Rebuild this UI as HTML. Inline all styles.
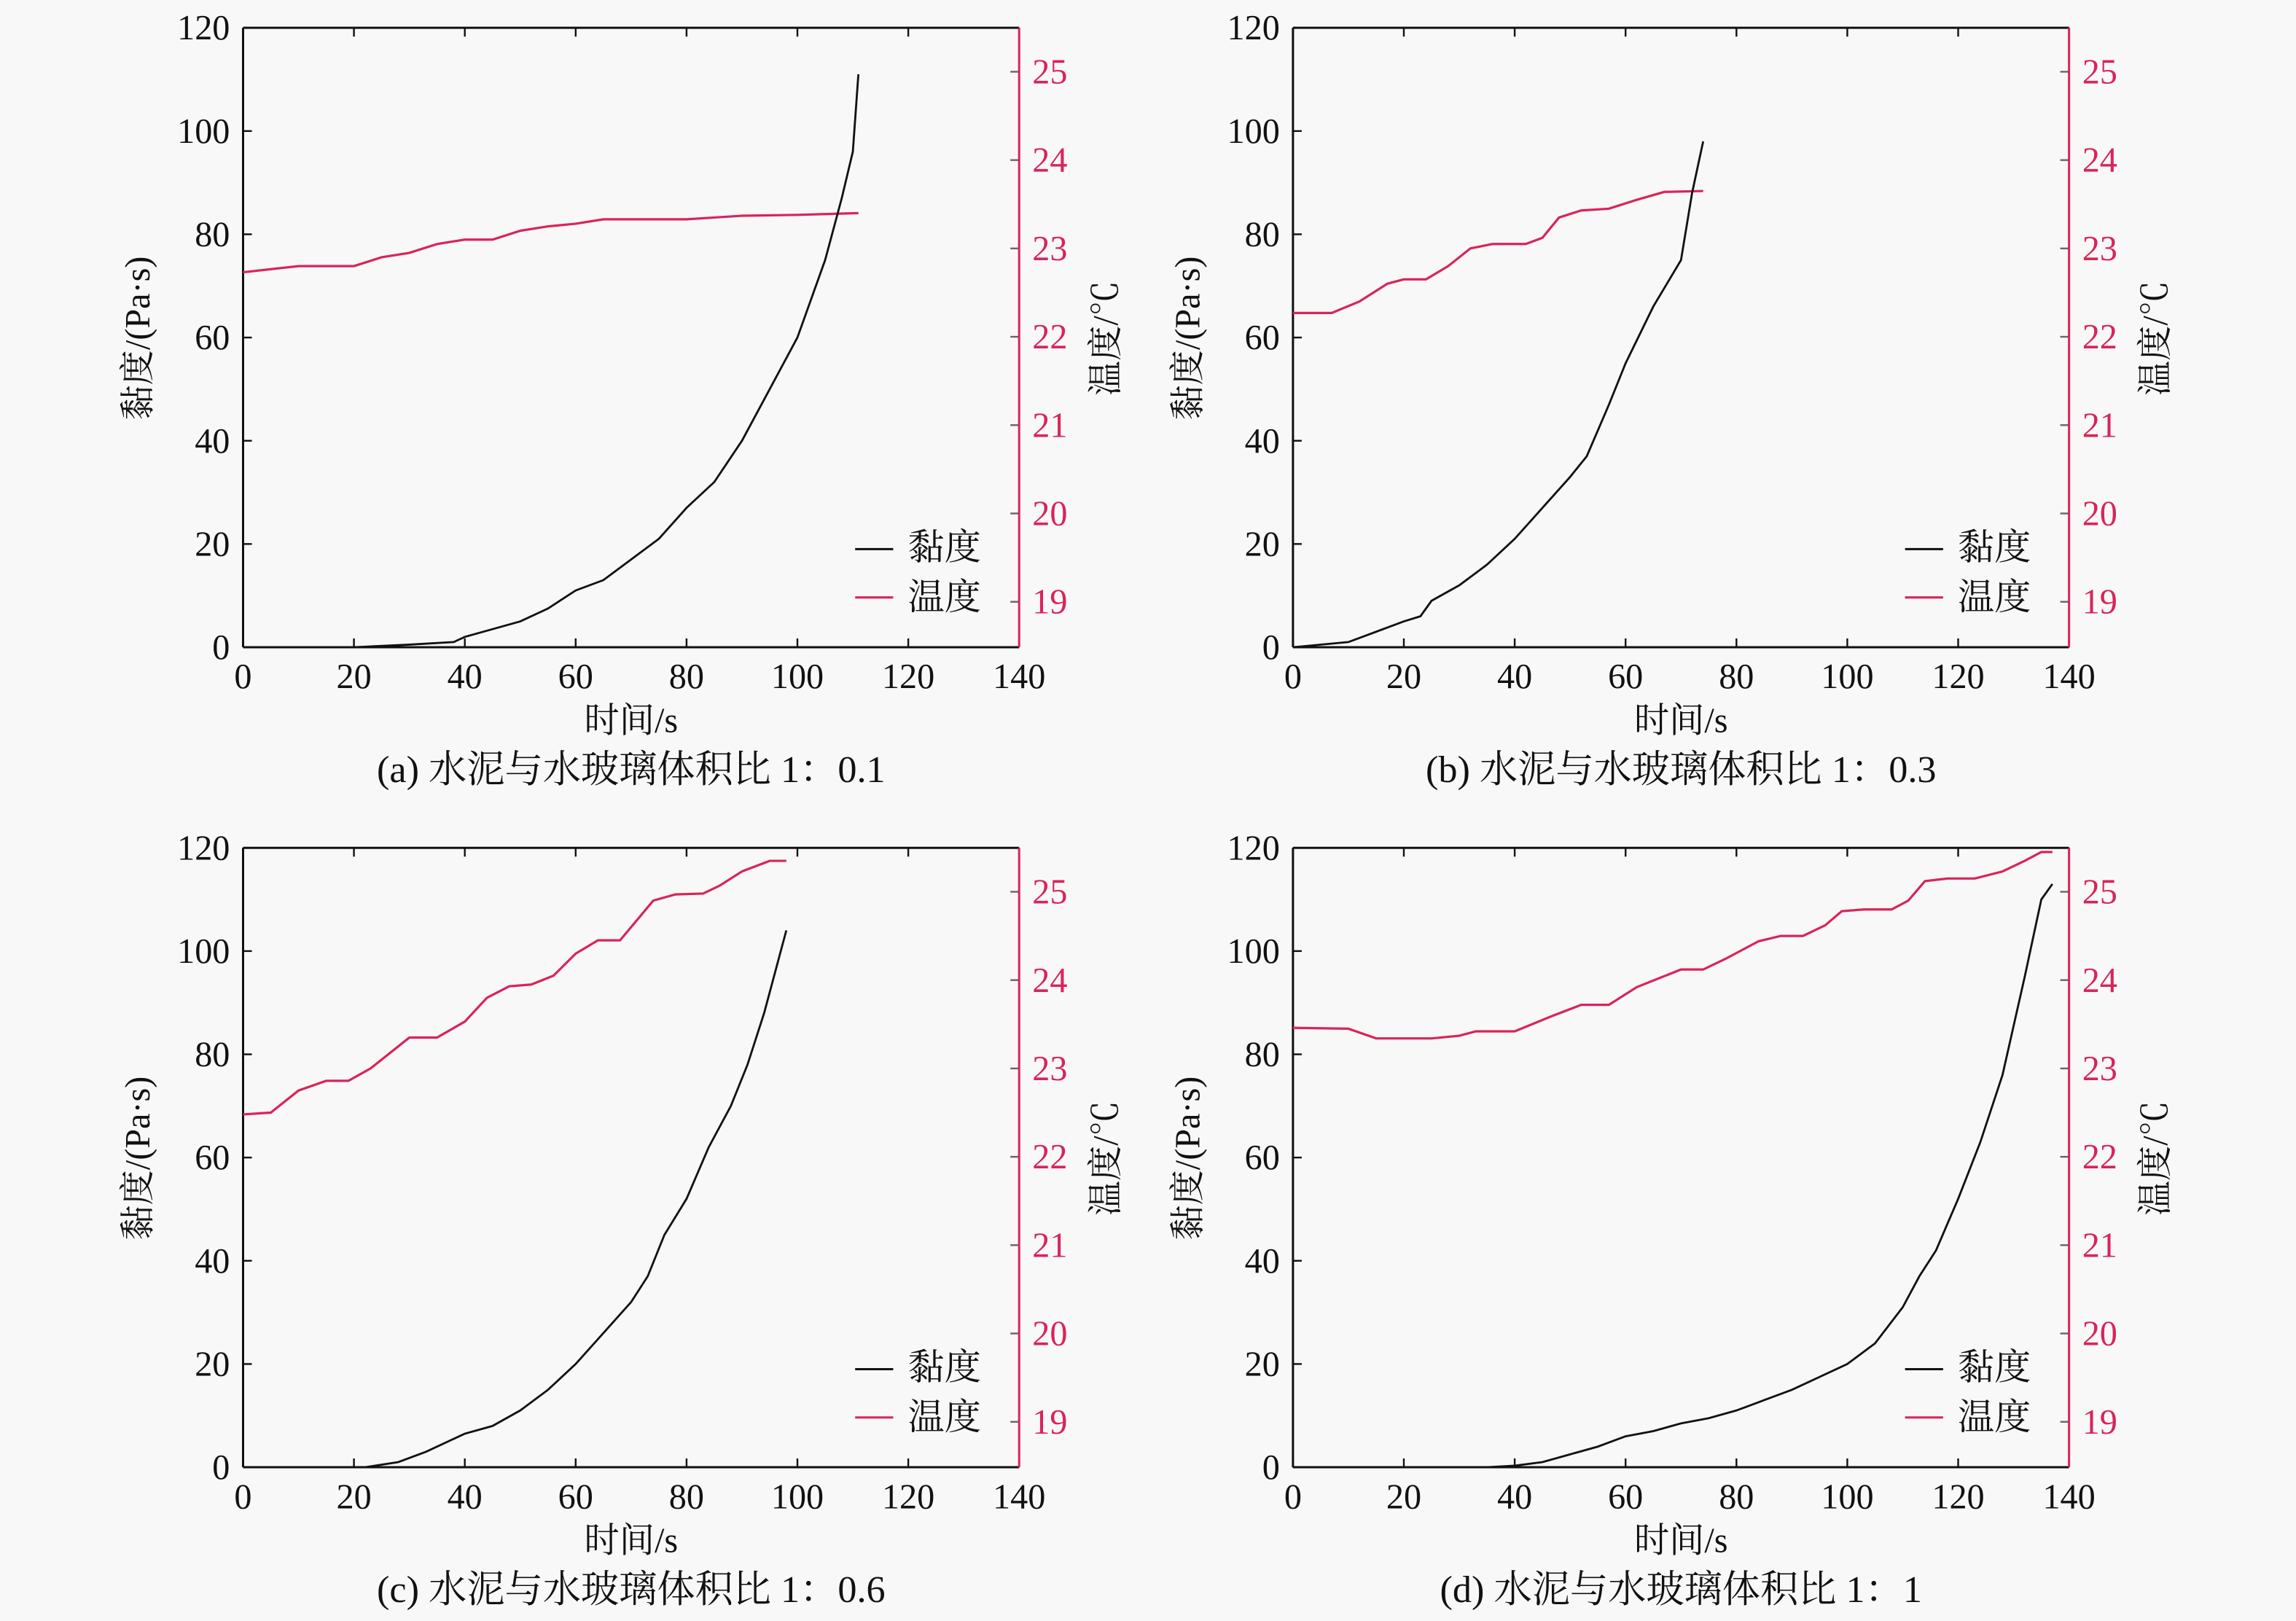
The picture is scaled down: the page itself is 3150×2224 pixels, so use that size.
<!DOCTYPE html>
<html><head><meta charset="utf-8"><style>html,body{margin:0;padding:0;background:#f8f8f8}svg{display:block}</style></head>
<body>
<svg id="s" xmlns="http://www.w3.org/2000/svg" width="3150" height="2224" viewBox="0 0 1568 1107" preserveAspectRatio="none" font-family="'Liberation Serif','Noto Serif CJK SC',serif">
<rect width="1568" height="1107" fill="#f8f8f8"/>
</svg>
<script>
const S=document.getElementById('s');const NS='http://www.w3.org/2000/svg';
function el(t,a,txt){const e=document.createElementNS(NS,t);for(const k in a)e.setAttribute(k,a[k]);if(txt!==undefined)e.textContent=txt;S.appendChild(e);return e;}
const PINK='#d8245a';
const panels=[
{x0:166,y0:19,cap:'(a) 水泥与水玻璃体积比 1：0.1',
v:[[0,0],[20,0],[30,0.5],[38,1],[40,2],[45,3.5],[50,5],[55,7.5],[60,11],[65,13],[70,17],[75,21],[80,27],[85,32],[90,40],[95,50],[100,60],[105,75],[108,87],[110,96],[111,111]],
t:[[0,22.73],[10,22.8],[20,22.8],[25,22.9],[30,22.95],[35,23.05],[40,23.1],[45,23.1],[50,23.2],[55,23.25],[60,23.28],[65,23.33],[70,23.33],[80,23.33],[85,23.35],[90,23.37],[100,23.38],[111,23.4]]},
{x0:883,y0:19,cap:'(b) 水泥与水玻璃体积比 1：0.3',
v:[[0,0],[10,1],[15,3],[20,5],[23,6],[25,9],[30,12],[35,16],[40,21],[45,27],[50,33],[53,37],[57,47],[60,55],[65,66],[70,75],[72,88],[74,98]],
t:[[0,22.27],[7,22.27],[12,22.4],[17,22.6],[20,22.65],[24,22.65],[28,22.8],[32,23],[36,23.05],[42,23.05],[45,23.12],[48,23.35],[52,23.43],[57,23.45],[62,23.55],[67,23.64],[74,23.65]]},
{x0:166,y0:579,cap:'(c) 水泥与水玻璃体积比 1：0.6',
v:[[0,0],[22,0],[28,1],[33,3],[37,5],[40,6.5],[45,8],[50,11],[55,15],[60,20],[65,26],[70,32],[73,37],[76,45],[80,52],[84,62],[88,70],[91,78],[94,88],[98,104]],
t:[[0,22.48],[5,22.5],[10,22.75],[15,22.86],[19,22.86],[23,23.0],[30,23.35],[35,23.35],[40,23.53],[44,23.8],[48,23.93],[52,23.95],[56,24.05],[60,24.3],[64,24.45],[68,24.45],[70,24.6],[74,24.9],[78,24.97],[83,24.98],[86,25.07],[90,25.23],[95,25.35],[98,25.35]]},
{x0:883,y0:579,cap:'(d) 水泥与水玻璃体积比 1：1',
v:[[0,0],[35,0],[40,0.3],[45,1],[50,2.5],[55,4],[60,6],[65,7],[70,8.5],[75,9.5],[80,11],[85,13],[90,15],[95,17.5],[100,20],[105,24],[110,31],[113,37],[116,42],[120,52],[124,63],[128,76],[132,95],[135,110],[137,113]],
t:[[0,23.46],[10,23.45],[15,23.34],[25,23.34],[30,23.37],[33,23.42],[40,23.42],[47,23.6],[52,23.72],[57,23.72],[62,23.92],[66,24.02],[70,24.12],[74,24.12],[78,24.24],[84,24.44],[88,24.5],[92,24.5],[96,24.62],[99,24.78],[103,24.8],[108,24.8],[111,24.9],[114,25.12],[118,25.15],[123,25.15],[128,25.23],[132,25.35],[135,25.45],[137,25.45]]}];
panels.forEach(p=>{
 const W=530,H=423,x0=p.x0,y0=p.y0,yb=y0+H,xr=x0+W;
 const X=t=>x0+t*W/140, Y=v=>yb-v*H/120, T=d=>y0+30+(25-d)*60.33;
 for(let t=0;t<=140;t+=20){el('line',{x1:X(t),x2:X(t),y1:yb,y2:yb-6,stroke:'#111','stroke-width':1.2});
  el('line',{x1:X(t),x2:X(t),y1:y0,y2:y0+6,stroke:'#111','stroke-width':1.2});
  el('text',{x:X(t),y:yb+28,'font-size':24,'text-anchor':'middle',fill:'#111'},t);}
 for(let v=0;v<=120;v+=20){el('line',{x1:x0,x2:x0+6,y1:Y(v),y2:Y(v),stroke:'#111','stroke-width':1.2});
  el('text',{x:x0-9,y:Y(v)+8,'font-size':24,'text-anchor':'end',fill:'#111'},v);}
 for(let d=19;d<=25;d++){el('line',{x1:xr,x2:xr-6,y1:T(d),y2:T(d),stroke:'#666','stroke-width':1.2});
  el('text',{x:xr+9,y:T(d)+8,'font-size':24,fill:PINK},d);}
 el('line',{x1:x0,x2:xr,y1:y0,y2:y0,stroke:'#111','stroke-width':1.5});
 el('line',{x1:x0,x2:xr,y1:yb,y2:yb,stroke:'#111','stroke-width':1.5});
 el('line',{x1:x0,x2:x0,y1:y0,y2:yb,stroke:'#111','stroke-width':1.5});
 el('line',{x1:xr,x2:xr,y1:y0,y2:yb,stroke:PINK,'stroke-width':1.5});
 el('polyline',{points:p.t.map(a=>X(a[0])+','+T(a[1])).join(' '),fill:'none',stroke:PINK,'stroke-width':1.6});
 el('polyline',{points:p.v.map(a=>X(a[0])+','+Y(a[1])).join(' '),fill:'none',stroke:'#111','stroke-width':1.4});
 el('line',{x1:x0+418,x2:x0+444,y1:y0+356,y2:y0+356,stroke:'#111','stroke-width':1.5});
 el('line',{x1:x0+418,x2:x0+444,y1:y0+389,y2:y0+389,stroke:PINK,'stroke-width':1.5});
 el('text',{x:x0+454,y:y0+363,'font-size':25,fill:'#111'},'黏度');
 el('text',{x:x0+454,y:y0+397,'font-size':25,fill:'#111'},'温度');
 el('text',{x:x0+265,y:yb+58,'font-size':24,'text-anchor':'middle',fill:'#111'},'时间/s');
 el('text',{x:x0+265,y:yb+92,'font-size':26,'text-anchor':'middle',fill:'#111'},p.cap);
 el('text',{x:0,y:0,'font-size':24,'text-anchor':'middle',fill:'#111',transform:`translate(${x0-64},${y0+212}) rotate(-90)`},'黏度/(Pa·s)');
 el('text',{x:0,y:0,'font-size':24,'text-anchor':'middle',fill:'#111',transform:`translate(${xr+67},${y0+212}) rotate(-90)`},'温度/℃');
});
</script>
</body></html>
